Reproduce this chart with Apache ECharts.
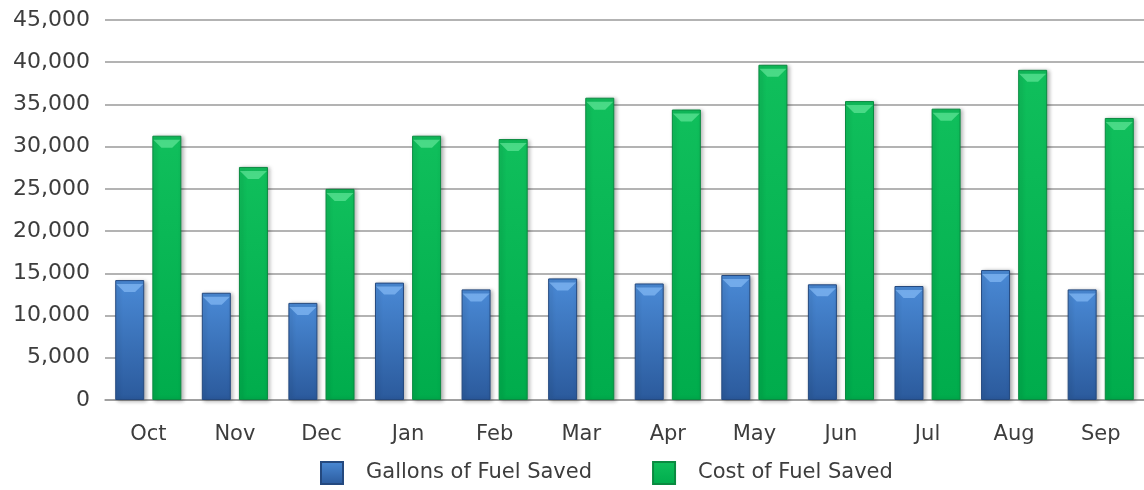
<!DOCTYPE html>
<html>
<head>
<meta charset="utf-8">
<script src="https://cdn.jsdelivr.net/npm/echarts@6/dist/echarts.min.js"></script>
<style>
  html, body { margin: 0; padding: 0; background: #fff; }
  #chart { width: 1144px; height: 490px; }
</style>
</head>
<body>
<div id="chart"></div>
<script>
var months = ['Oct', 'Nov', 'Dec', 'Jan', 'Feb', 'Mar', 'Apr', 'May', 'Jun', 'Jul', 'Aug', 'Sep']
var gallons = [14200, 12700, 11500, 13900, 13100, 14400, 13800, 14800, 13700, 13500, 15400, 13100]
var cost = [31300, 27600, 25000, 31300, 30900, 35800, 34400, 39700, 35400, 34500, 39100, 33400]

var font = 'DejaVu Sans'
var textColor = '#3d3d3d'

function vFill (top, bottom) {
  return {
    type: 'linear', x: 0, y: 0, x2: 0, y2: 1,
    colorStops: [{ offset: 0, color: top }, { offset: 1, color: bottom }]
  }
}

// light bevel on top of each bar
function cap (name, data, color) {
  return {
    name: name,
    type: 'pictorialBar',
    data: data,
    barWidth: 29,
    barGap: '28%',
    symbol: 'path://M0,0L20,0L14,6L6,6Z',
    symbolSize: [27, 8],
    symbolPosition: 'end',
    symbolOffset: [0, '50%'],
    itemStyle: { color: color },
    z: 3,
    silent: true
  }
}

var myChart = echarts.init(document.getElementById('chart'))
myChart.setOption({
  animation: false,
  grid: { left: 105, right: 0, top: 20, bottom: 90 },
  xAxis: {
    type: 'category',
    data: months,
    axisLine: { lineStyle: { color: '#9a9a9a', width: 1.5 } },
    axisTick: { show: false },
    axisLabel: { color: textColor, fontFamily: font, fontSize: 21, margin: 24 }
  },
  yAxis: {
    type: 'value',
    min: 0,
    max: 45000,
    interval: 5000,
    axisLine: { show: false },
    axisTick: { show: false },
    splitLine: { lineStyle: { color: '#9a9a9a', width: 1.5 } },
    axisLabel: {
      color: textColor, fontFamily: font, fontSize: 22, margin: 15,
      formatter: function (v) { return v.toLocaleString('en-US') }
    }
  },
  legend: {
    data: ['Gallons of Fuel Saved', 'Cost of Fuel Saved'],
    bottom: 0,
    left: 315,
    icon: 'rect',
    itemWidth: 22,
    itemHeight: 22,
    itemGap: 60,
    selectedMode: false,
    textStyle: { color: textColor, fontFamily: font, fontSize: 21, padding: [0, 0, 0, 18] }
  },
  series: [
    {
      name: 'Gallons of Fuel Saved',
      type: 'bar',
      data: gallons,
      barWidth: 29,
      barGap: '28%',
      itemStyle: {
        color: vFill('#4a8ad6', '#2b5a9c'),
        borderColor: '#24497f',
        borderWidth: 1,
        shadowColor: 'rgba(0,0,0,0.3)',
        shadowBlur: 4,
        shadowOffsetX: 2,
        shadowOffsetY: 1
      }
    },
    {
      name: 'Cost of Fuel Saved',
      type: 'bar',
      data: cost,
      barWidth: 29,
      barGap: '28%',
      itemStyle: {
        color: vFill('#10bf5c', '#00ac4c'),
        borderColor: '#0a8a40',
        borderWidth: 1,
        shadowColor: 'rgba(0,0,0,0.3)',
        shadowBlur: 4,
        shadowOffsetX: 2,
        shadowOffsetY: 1
      }
    },
    cap('gallonsCap', gallons, 'rgba(150,200,255,0.55)'),
    cap('costCap', cost, 'rgba(120,240,170,0.55)')
  ]
})
</script>
</body>
</html>
